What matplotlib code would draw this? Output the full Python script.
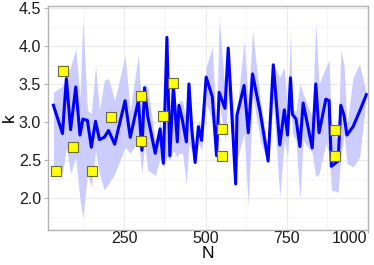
import matplotlib
matplotlib.use("Agg")
import matplotlib.pyplot as plt
import matplotlib.ticker as ticker

# line samples: N, k, and band limits
n_vals = [31, 59, 71, 84, 100, 113, 122, 136, 148, 161, 173, 188, 201, 220,
          252, 268, 293, 304, 312, 322, 345, 360, 370, 381, 390, 401, 413,
          418, 429, 441, 449, 458, 468, 478, 488, 502, 521, 534, 542, 560,
          570, 593, 597, 619, 632, 645, 669, 693, 709, 729, 743, 753, 762,
          768, 779, 791, 801, 829, 840, 850, 871, 881, 888, 909, 917, 927,
          936, 955, 975, 996]
k_vals = [3.22, 2.85, 3.57, 2.90, 3.46, 2.83, 3.04, 3.02, 2.67, 3.01, 2.77,
          2.80, 2.89, 2.71, 3.28, 2.80, 3.28, 2.63, 3.45, 3.07, 2.59, 2.91,
          2.46, 4.11, 2.56, 3.48, 2.74, 3.22, 3.02, 2.74, 3.50, 2.89, 2.47,
          2.94, 2.76, 3.59, 3.33, 2.56, 3.39, 3.18, 3.97, 2.19, 3.09, 3.48,
          2.86, 3.63, 3.12, 2.49, 3.75, 2.70, 3.16, 2.83, 3.58, 3.10, 3.04,
          2.68, 3.25, 2.66, 3.50, 2.86, 3.30, 3.28, 2.42, 2.49, 3.22, 3.09,
          2.83, 2.94, 3.14, 3.36]
k_upper = [3.39, 3.47, 3.61, 3.72, 3.96, 3.33, 4.35, 3.15, 3.11, 3.74, 3.15,
           3.55, 3.57, 3.28, 3.87, 3.15, 3.89, 3.11, 3.50, 3.46, 2.76, 3.02,
           2.72, 4.11, 2.85, 3.55, 2.98, 3.28, 3.28, 3.02, 3.50, 3.02, 2.67,
           3.02, 2.94, 3.72, 3.98, 2.89, 4.37, 3.42, 3.98, 2.85, 3.15, 4.07,
           3.28, 4.20, 3.28, 2.63, 3.76, 3.59, 3.72, 3.11, 4.20, 3.15, 3.15,
           3.50, 3.37, 3.07, 4.29, 3.50, 3.72, 3.81, 2.94, 2.76, 3.94, 3.76,
           2.94, 3.59, 3.76, 3.37]
k_lower = [2.41, 2.32, 2.67, 2.32, 2.54, 1.98, 1.74, 2.32, 2.15, 2.63, 2.32,
           2.11, 2.19, 2.32, 2.67, 2.59, 2.76, 2.32, 2.72, 2.37, 2.30, 2.52,
           2.41, 2.54, 2.50, 2.63, 2.54, 2.59, 2.59, 2.19, 2.72, 2.63, 2.46,
           2.72, 2.63, 3.24, 3.02, 2.54, 3.28, 2.76, 3.37, 2.15, 2.50, 2.85,
           1.89, 3.37, 2.76, 2.46, 3.28, 2.02, 2.76, 2.54, 3.24, 2.85, 2.76,
           1.98, 2.76, 2.59, 2.28, 2.32, 2.72, 2.59, 2.11, 2.08, 2.54, 2.85,
           2.46, 2.41, 2.54, 3.33]

# measured points
pt_n = [40, 60, 90, 150, 210, 300, 300, 370, 400, 550, 550, 900, 900]
pt_k = [2.36, 3.67, 2.67, 2.36, 3.06, 3.34, 2.75, 3.08, 3.51, 2.91, 2.56,
        2.89, 2.56]


def main() -> int:
    plt.rcParams["font.family"] = ["Liberation Sans", "DejaVu Sans"]
    fig = plt.figure(figsize=(3.74, 2.65), dpi=100)
    ax = fig.add_axes([0.128, 0.132, 0.856, 0.845])

    ax.fill_between(n_vals, k_lower, k_upper, color="#ccccff", linewidth=0,
                    zorder=1)
    ax.plot(n_vals, k_vals, color="#0000ff", linewidth=2.2, zorder=2)
    ax.scatter(pt_n, pt_k, marker="s", s=42, facecolor="#ffff00",
               edgecolor="#6b6b2a", linewidth=0.8, zorder=3)

    ax.set_xlim(14, 1001)
    ax.set_ylim(1.585, 4.52)
    ax.xaxis.set_major_locator(ticker.FixedLocator([250, 500, 750, 1000]))
    ax.xaxis.set_minor_locator(ticker.FixedLocator([125, 375, 625, 875]))
    ax.yaxis.set_major_locator(ticker.MultipleLocator(0.5))
    ax.yaxis.set_minor_locator(ticker.MultipleLocator(0.25))
    ax.yaxis.set_major_formatter(ticker.FormatStrFormatter("%.1f"))

    ax.grid(which="major", color="#ebebeb", linewidth=0.8, zorder=0)
    ax.grid(which="minor", color="#f4f4f4", linewidth=0.6, zorder=0)
    ax.set_axisbelow(True)
    for side in ax.spines.values():
        side.set_color("#b3b3b3")
        side.set_linewidth(1.0)
    ax.tick_params(which="major", length=3, color="#b3b3b3", labelsize=11.5,
                   labelcolor="#1a1a1a", pad=2)
    ax.tick_params(axis="x", which="major", length=2, pad=-1)
    ax.tick_params(which="minor", length=0)

    # last x label sits flush with the right edge
    fig.canvas.draw()
    ax.get_xticklabels()[-1].set_horizontalalignment("right")
    ax.get_xticklabels()[-1].set_x(1001)

    ax.set_xlabel("N", fontsize=12.5, labelpad=0)
    ax.set_ylabel("k", fontsize=12.5, labelpad=1)

    fig.savefig("out.png", dpi=100)
    return 0


if __name__ == "__main__":
    main()
